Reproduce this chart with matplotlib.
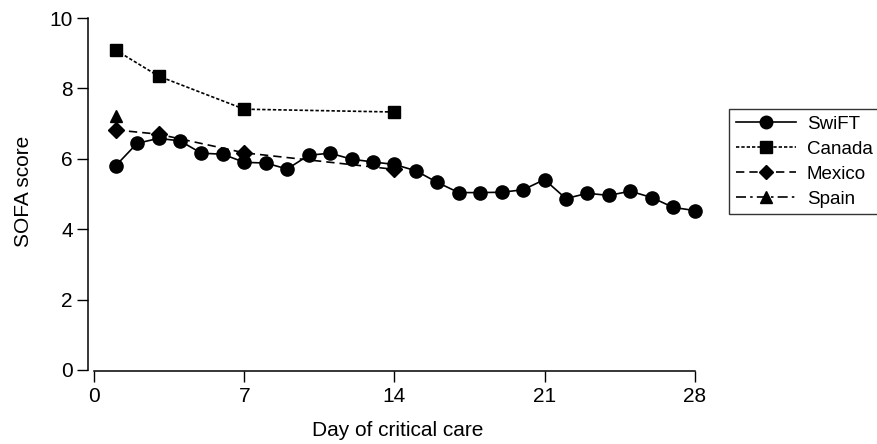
import matplotlib
matplotlib.use("Agg")
import matplotlib.pyplot as plt

plt.rcParams['font.family'] = ['Liberation Sans', 'DejaVu Sans']

swift_days = list(range(1, 29))
swift_sofa = [5.80, 6.44, 6.58, 6.51, 6.16, 6.13, 5.90, 5.88, 5.71, 6.10,
              6.16, 5.99, 5.91, 5.84, 5.66, 5.33, 5.04, 5.04, 5.05, 5.12,
              5.41, 4.87, 5.02, 4.96, 5.08, 4.90, 4.62, 4.53]
canada_days = [1, 3, 7, 14]
canada_sofa = [9.09, 8.35, 7.41, 7.33]
mexico_days = [1, 3, 7, 14]
mexico_sofa = [6.82, 6.70, 6.17, 5.70]
spain_days = [1]
spain_sofa = [7.22]

xticks = [0, 7, 14, 21, 28]
yticks = [0, 2, 4, 6, 8, 10]

fig = plt.figure(figsize=(8.77, 4.44), dpi=100)
ax = fig.add_axes([0.1003, 0.1644, 0.7064, 0.8108])

lw = 1.2
ax.plot(swift_days, swift_sofa, color='black', lw=lw, ls='-', marker='o',
        markersize=9.5, label='SwiFT')
ax.plot(canada_days, canada_sofa, color='black', lw=lw, ls=(0, (2, 1.2)), marker='s',
        markersize=8.5, label='Canada')
ax.plot(mexico_days, mexico_sofa, color='black', lw=lw, ls=(0, (5, 3)), marker='D',
        markersize=8, label='Mexico')
ax.plot(spain_days, spain_sofa, color='black', lw=lw, ls=(0, (6, 2.5, 1.5, 2.5)), marker='^',
        markersize=9, label='Spain')

ax.set_xlim(-0.29, 28.6)
ax.set_ylim(-0.03, 10.2)
ax.set_xticks(xticks)
ax.set_yticks(yticks)
ax.spines['top'].set_visible(False)
ax.spines['right'].set_visible(False)
ax.spines['left'].set_bounds(0, 10)
ax.spines['bottom'].set_bounds(0, 28)
for s in ('left', 'bottom'):
    ax.spines[s].set_linewidth(1.1)
ax.tick_params(axis='both', direction='out', length=8, width=1.0, labelsize=15)
ax.tick_params(axis='x', pad=3.5)
ax.tick_params(axis='y', pad=3)

ax.set_xlabel('Day of critical care', fontsize=15, labelpad=11)
ax.set_ylabel('SOFA score', fontsize=15, labelpad=12)

leg = fig.legend(loc='upper left', bbox_to_anchor=(729 / 877, 1 - 109 / 444),
                 frameon=True, fancybox=False, edgecolor='black', fontsize=13.5,
                 handlelength=3.2, markerscale=0.95, borderpad=0.35,
                 labelspacing=0.42, handletextpad=0.6, borderaxespad=0)
leg.get_frame().set_linewidth(1.0)

fig.savefig('out.png', dpi=100)
